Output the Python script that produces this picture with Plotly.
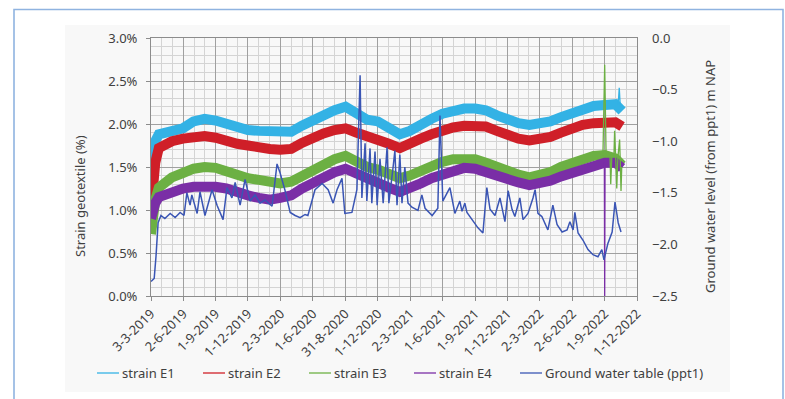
import pandas as pd
import plotly.graph_objects as go

# ---- strain readings (monthly representative values, %) ----
strain_dates = [
    "2019-03-03", "2019-03-08", "2019-03-15", "2019-03-25",
    "2019-05-01", "2019-06-01", "2019-07-01", "2019-08-01", "2019-09-01", "2019-10-01", "2019-11-01", "2019-12-01",
    "2020-01-01", "2020-02-01", "2020-03-01", "2020-04-01", "2020-05-01", "2020-06-01", "2020-07-01", "2020-08-01",
    "2020-09-01", "2020-10-01", "2020-11-01", "2020-12-01",
    "2021-01-01", "2021-02-01", "2021-03-01", "2021-04-01", "2021-05-01", "2021-06-01", "2021-07-01", "2021-08-01",
    "2021-09-01", "2021-10-01", "2021-11-01", "2021-12-01",
    "2022-01-01", "2022-02-01", "2022-03-01", "2022-04-01", "2022-05-01", "2022-06-01", "2022-07-01", "2022-08-01",
    "2022-09-01", "2022-10-01", "2022-10-20",
]
strain_e1 = [1.40, 1.62, 1.80, 1.88,
             1.91, 1.95, 2.03, 2.06, 2.04, 2.00, 1.96, 1.93,
             1.92, 1.91, 1.90, 1.91, 1.98, 2.05, 2.11, 2.16, 2.20, 2.11, 2.05, 2.03,
             1.95, 1.88, 1.92, 2.00, 2.06, 2.12, 2.15, 2.18, 2.18, 2.16, 2.10, 2.04,
             2.01, 1.99, 2.00, 2.03, 2.08, 2.13, 2.18, 2.21, 2.22, 2.23, 2.15]
strain_e2 = [1.00, 1.28, 1.55, 1.72,
             1.80, 1.83, 1.85, 1.86, 1.84, 1.80, 1.77, 1.75,
             1.72, 1.71, 1.70, 1.71, 1.78, 1.85, 1.89, 1.93, 1.95, 1.90, 1.86, 1.84,
             1.77, 1.72, 1.76, 1.83, 1.88, 1.93, 1.96, 1.98, 1.98, 1.97, 1.92, 1.86,
             1.83, 1.81, 1.82, 1.85, 1.90, 1.95, 1.99, 2.01, 2.02, 2.02, 1.97]
strain_e3 = [0.72, 0.92, 1.12, 1.26,
             1.38, 1.43, 1.48, 1.50, 1.49, 1.45, 1.40, 1.37,
             1.35, 1.34, 1.31, 1.33, 1.40, 1.47, 1.53, 1.59, 1.63, 1.55, 1.50, 1.47,
             1.42, 1.37, 1.40, 1.46, 1.51, 1.56, 1.59, 1.60, 1.59, 1.55, 1.50, 1.44,
             1.41, 1.38, 1.40, 1.44, 1.50, 1.55, 1.60, 1.63, 1.64, 1.60, 1.52]
strain_e4 = [0.90, 1.00, 1.08, 1.15,
             1.22, 1.25, 1.27, 1.28, 1.27, 1.25, 1.20, 1.17,
             1.14, 1.12, 1.14, 1.17, 1.25, 1.32, 1.38, 1.44, 1.48, 1.42, 1.37, 1.30,
             1.26, 1.21, 1.25, 1.31, 1.37, 1.42, 1.46, 1.49, 1.48, 1.44, 1.38, 1.34,
             1.32, 1.29, 1.31, 1.34, 1.39, 1.43, 1.48, 1.52, 1.55, 1.55, 1.49]

# ---- isolated sensor outliers (drawn as thin lines) ----
e1_outlier_dates = ["2022-10-09", "2022-10-12", "2022-10-15"]
e1_outlier_vals = [2.22, 2.42, 2.20]
e3_outlier_dates = ["2022-08-27", "2022-09-01", "2022-09-05", "2022-09-16", "2022-09-18", "2022-09-21",
                    "2022-09-27", "2022-09-29", "2022-10-02", "2022-10-05", "2022-10-08", "2022-10-13",
                    "2022-10-15", "2022-10-17", "2022-10-19"]
e3_outlier_vals = [1.63, 2.69, 1.63, 1.63, 1.30, 1.62, 1.62, 1.92, 1.60, 1.25, 1.60, 1.82, 1.55, 1.22, 1.50]
e4_outlier_dates = ["2022-08-31", "2022-09-01", "2022-09-02"]
e4_outlier_vals = [1.55, 0.0, 1.55]

# ---- ground water table ppt1 (m NAP) ----
gw_dates = [
    "2019-03-03", "2019-03-12", "2019-03-17", "2019-03-23", "2019-03-31", "2019-04-11", "2019-04-26", "2019-05-10",
    "2019-05-24", "2019-06-04", "2019-06-12", "2019-06-21", "2019-06-26", "2019-07-11", "2019-07-19", "2019-08-02",
    "2019-08-22", "2019-09-05", "2019-09-22", "2019-10-03", "2019-10-17", "2019-10-26", "2019-11-09", "2019-11-23",
    "2019-12-07", "2019-12-21", "2020-01-04", "2020-01-18", "2020-02-07", "2020-02-21", "2020-02-29", "2020-03-14",
    "2020-03-29", "2020-04-12", "2020-04-26", "2020-05-10", "2020-05-18", "2020-06-07", "2020-06-27", "2020-07-14",
    "2020-07-28", "2020-08-08", "2020-08-22", "2020-08-30", "2020-09-19", "2020-10-03", "2020-10-12", "2020-10-17",
    "2020-10-26", "2020-10-31", "2020-11-09", "2020-11-14", "2020-11-23", "2020-11-29", "2020-12-07", "2020-12-16",
    "2020-12-27", "2021-01-01", "2021-01-13", "2021-01-18", "2021-01-24", "2021-02-01", "2021-02-07", "2021-02-15",
    "2021-02-24", "2021-03-07", "2021-03-24", "2021-04-04", "2021-04-13", "2021-05-03", "2021-05-19", "2021-05-25",
    "2021-06-02", "2021-06-14", "2021-06-22", "2021-07-06", "2021-07-20", "2021-07-26", "2021-08-03", "2021-08-09",
    "2021-08-23", "2021-09-09", "2021-09-23", "2021-10-04", "2021-10-13", "2021-10-27", "2021-11-10", "2021-11-16",
    "2021-11-24", "2021-12-03", "2021-12-14", "2021-12-22", "2022-01-05", "2022-01-14", "2022-01-28", "2022-02-11",
    "2022-02-17", "2022-02-25", "2022-03-08", "2022-03-25", "2022-04-08", "2022-04-20", "2022-05-04", "2022-05-18",
    "2022-05-26", "2022-06-04", "2022-06-09", "2022-06-18", "2022-07-02", "2022-07-16", "2022-07-30", "2022-08-13",
    "2022-08-24", "2022-08-30", "2022-09-10", "2022-09-22", "2022-09-30", "2022-10-06", "2022-10-09", "2022-10-17",
]
gw_level = [
    -2.36, -2.33, -2.12, -1.79, -1.72, -1.75, -1.70, -1.74,
    -1.69, -1.72, -1.50, -1.62, -1.52, -1.70, -1.49, -1.72,
    -1.47, -1.62, -1.76, -1.45, -1.55, -1.40, -1.62, -1.37,
    -1.58, -1.52, -1.60, -1.57, -1.63, -1.22, -1.30, -1.47,
    -1.69, -1.72, -1.74, -1.71, -1.72, -1.47, -1.41, -1.47,
    -1.60, -1.47, -1.36, -1.70, -1.69, -1.47, -0.36, -1.55,
    -1.02, -1.58, -1.07, -1.60, -1.10, -1.62, -1.17, -1.60,
    -1.06, -1.60, -1.25, -1.09, -1.62, -1.13, -1.60, -1.25,
    -1.60, -1.64, -1.67, -1.52, -1.65, -1.72, -1.65, -0.75,
    -1.58, -1.50, -1.45, -1.70, -1.58, -1.68, -1.60, -1.69,
    -1.76, -1.84, -1.89, -1.45, -1.66, -1.72, -1.55, -1.66,
    -1.78, -1.48, -1.66, -1.73, -1.55, -1.76, -1.70, -1.55,
    -1.47, -1.70, -1.73, -1.86, -1.62, -1.81, -1.88, -1.86,
    -1.78, -1.86, -1.69, -1.89, -1.96, -2.05, -2.10, -2.12,
    -2.05, -2.15, -1.99, -1.88, -1.59, -1.72, -1.79, -1.88,
]

# ---- axis tick labels ----
x_tick_dates = ["2019-03-03", "2019-06-02", "2019-09-01", "2019-12-01", "2020-03-02", "2020-06-01",
                "2020-08-31", "2020-12-01", "2021-03-02", "2021-06-01", "2021-09-01", "2021-12-01",
                "2022-03-02", "2022-06-02", "2022-09-01", "2022-12-01"]
x_tick_labels = ["3-3-2019", "2-6-2019", "1-9-2019", "1-12-2019", "2-3-2020", "1-6-2020",
                 "31-8-2020", "1-12-2020", "2-3-2021", "1-6-2021", "1-9-2021", "1-12-2021",
                 "2-3-2022", "2-6-2022", "1-9-2022", "1-12-2022"]

series_names = ["strain E1", "strain E2", "strain E3", "strain E4", "Ground water table (ppt1)"]
colors = ["#33b2e5", "#cf1f28", "#6cb043", "#7a2ea6", "#3a55b4"]

# ---- layout geometry (pixels) ----
W, H = 785, 399
PL, PR, PT, PB = 151, 637, 38, 296


def px_x(p):
    return (p - PL) / (PR - PL)


def px_y(p):
    return (PB - p) / (PB - PT)


# monthly minor gridlines: thirds between consecutive major ticks
major = pd.to_datetime(x_tick_dates)
minor_vals = []
for a, b in zip(major[:-1], major[1:]):
    minor_vals.append(a + (b - a) / 3)
    minor_vals.append(a + 2 * (b - a) / 3)

fig = go.Figure()

band_width = 10
for vals, name, col in zip([strain_e1, strain_e2, strain_e3, strain_e4], series_names[:4], colors[:4]):
    fig.add_trace(go.Scatter(x=strain_dates, y=vals, mode="lines", name=name,
                             line=dict(color=col, width=band_width), showlegend=False))

for d, v, col in [(e1_outlier_dates, e1_outlier_vals, colors[0]),
                  (e3_outlier_dates, e3_outlier_vals, colors[2]),
                  (e4_outlier_dates, e4_outlier_vals, colors[3])]:
    fig.add_trace(go.Scatter(x=d, y=v, mode="lines", line=dict(color=col, width=1.3), showlegend=False))

fig.add_trace(go.Scatter(x=gw_dates, y=gw_level, mode="lines", name=series_names[4], yaxis="y2",
                         line=dict(color=colors[4], width=1.5), showlegend=False))

tick_font = dict(family="Noto Sans, Open Sans, sans-serif", size=13, color="#404040")
grid_major = "#a0a0a0"
grid_minor = "#d4d4d4"
axis_line = "#8c8c8c"

fig.update_layout(
    width=W, height=H,
    margin=dict(l=PL, r=W - PR, t=PT, b=H - PB),
    paper_bgcolor="white", plot_bgcolor="white",
    font=tick_font,
    xaxis=dict(
        type="date",
        range=[x_tick_dates[0], x_tick_dates[-1]],
        tickmode="array", tickvals=x_tick_dates, ticktext=x_tick_labels,
        tickangle=-45, tickfont=tick_font,
        showgrid=True, gridcolor=grid_major, gridwidth=1,
        minor=dict(tickvals=minor_vals, showgrid=True, gridcolor=grid_minor, gridwidth=1, ticks=""),
        ticks="outside", ticklen=4, tickcolor=axis_line,
        showline=True, linecolor=axis_line, linewidth=1, mirror=True,
        zeroline=False,
    ),
    yaxis=dict(
        range=[0, 3], dtick=0.5, tick0=0, tickformat=".1f", ticksuffix="%",
        tickfont=tick_font,
        showgrid=True, gridcolor=grid_major, gridwidth=1,
        minor=dict(dtick=0.1, showgrid=True, gridcolor=grid_minor, gridwidth=1, ticks=""),
        ticks="outside", ticklen=4, tickcolor=axis_line, ticklabelstandoff=6,
        showline=True, linecolor=axis_line, linewidth=1, mirror=True,
        zeroline=False,
    ),
    yaxis2=dict(
        overlaying="y", side="right",
        range=[-2.5, 0], dtick=0.5, tick0=0, tickformat=".1f",
        tickfont=tick_font, showgrid=False, zeroline=False,
        ticks="", ticklabelstandoff=14,
    ),
)

annotations = [
    dict(text="Strain geotextile (%)", textangle=-90, x=px_x(80), y=px_y(196),
         xref="paper", yref="paper", showarrow=False, font=tick_font, xanchor="center", yanchor="middle"),
    dict(text="Ground water level (from ppt1) m NAP", textangle=-90, x=px_x(710), y=px_y(177),
         xref="paper", yref="paper", showarrow=False, font=tick_font, xanchor="center", yanchor="middle"),
]

shapes = [
    # outer framed panel
    dict(type="rect", xref="paper", yref="paper", x0=px_x(65), x1=px_x(730), y0=px_y(392), y1=px_y(25),
         fillcolor="#f8f8f8", line=dict(width=0), layer="below"),
    dict(type="rect", xref="paper", yref="paper", x0=px_x(14), x1=px_x(783), y0=px_y(415), y1=px_y(9.5),
         fillcolor="rgba(0,0,0,0)", line=dict(color="#8fb3e0", width=1.6), layer="above"),
]

# legend row
legend_line_x = [97, 203, 309, 414, 520]
legend_y = 373
for lx, name, col in zip(legend_line_x, series_names, colors):
    shapes.append(dict(type="line", xref="paper", yref="paper", x0=px_x(lx), x1=px_x(lx + 22),
                       y0=px_y(legend_y), y1=px_y(legend_y), line=dict(color=col, width=1.3)))
    annotations.append(dict(text=name, x=px_x(lx + 23), y=px_y(legend_y), xref="paper", yref="paper",
                            showarrow=False, xanchor="left", yanchor="middle", font=tick_font))

fig.update_layout(annotations=annotations, shapes=shapes)

fig.write_html("out.html")
